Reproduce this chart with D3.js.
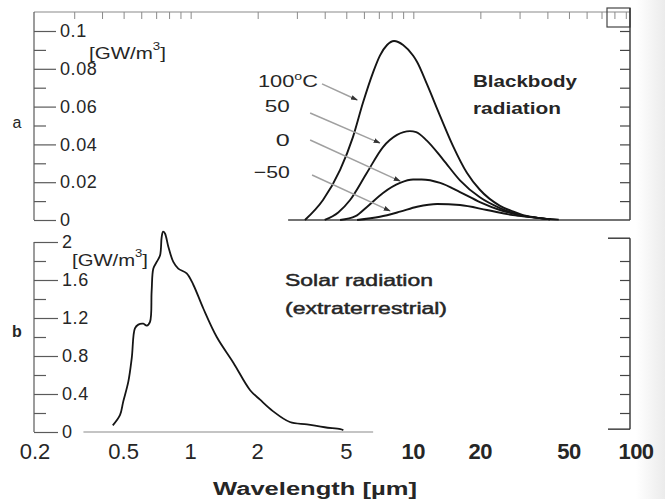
<!DOCTYPE html>
<html>
<head>
<meta charset="utf-8">
<script src="https://cdn.jsdelivr.net/npm/d3@7"></script>
<style>
  html, body { margin: 0; padding: 0; background: #fff; }
  svg { display: block; }
  text { font-family: "Liberation Sans", Arial, sans-serif; fill: #262626; }
</style>
</head>
<body>
<svg id="chart" width="665" height="499"></svg>
<script>
// Wavelength axis (shared by both panels), µm
const xTickValues = [0.2, 0.5, 1, 2, 5, 10, 20, 50, 100];
const xTickLabels = ["0.2", "0.5", "1", "2", "5", "10", "20", "50", "100"];

// Panel a: blackbody spectral exitance, GW/m³
const yTicksA = [0, 0.02, 0.04, 0.06, 0.08, 0.1];
const yTickLabelsA = ["0", "0.02", "0.04", "0.06", "0.08", "0.1"];

// Panel b: extraterrestrial solar spectrum, GW/m³
const yTicksB = [0, 0.4, 0.8, 1.2, 1.6, 2];
const yTickLabelsB = ["0", "0.4", "0.8", "1.2", "1.6", "2"];

// Blackbody curves: [wavelength µm, GW/m³]
const bb100 = [[3.26,0],[3.93,0.0106],[4.69,0.0265],[5.36,0.044],[5.94,0.062],[6.59,0.078],[7.08,0.087],[7.62,0.0926],[8.19,0.0947],[9.0,0.0926],[9.97,0.087],[10.4,0.0836],[11.5,0.072],[13.2,0.055],[15.1,0.039],[17.4,0.025],[19.9,0.016],[24.5,0.0075],[28.0,0.0045],[31.1,0.0026],[37.1,0.001],[41.1,0.0003]];
const bb50 = [[4.0,0],[4.6,0.004],[5.2,0.0106],[6.19,0.025],[7.31,0.0386],[8.45,0.045],[9.66,0.047],[10.3,0.0465],[11.5,0.042],[13.6,0.032],[16.2,0.021],[19.9,0.012],[24.5,0.0063],[30.1,0.0026],[37.1,0.001],[41.0,0.0003]];
const bb0 = [[4.69,0],[5.5,0.002],[6.19,0.0069],[7.31,0.0143],[8.72,0.0196],[9.97,0.0214],[10.9,0.0214],[13.2,0.0196],[16.2,0.0148],[19.9,0.0095],[24.5,0.0053],[30.1,0.0026],[37.1,0.001],[41.0,0.0003]];
const bbMinus50 = [[5.59,0],[7.08,0.0017],[8.72,0.0044],[10.4,0.007],[12.8,0.0085],[16.2,0.0079],[21.4,0.0053],[28.0,0.0026],[33.4,0.0016],[41.1,0.0005],[45.0,0.0002]];
const bbLabels = ["100°C", "50", "0", "−50"];

// Solar curve: [wavelength µm, GW/m³]
const solar = [[0.447,0.07],[0.482,0.18],[0.498,0.32],[0.525,0.53],[0.544,0.78],[0.562,1.09],[0.582,1.13],[0.613,1.14],[0.635,1.12],[0.657,1.16],[0.668,1.48],[0.680,1.72],[0.704,1.79],[0.729,1.86],[0.741,2.05],[0.752,2.11],[0.767,2.09],[0.794,1.95],[0.836,1.79],[0.880,1.72],[0.960,1.67],[1.028,1.55],[1.14,1.30],[1.31,1.0],[1.555,0.73],[1.85,0.44],[2.05,0.34],[2.34,0.22],[2.79,0.105],[3.33,0.08],[4.0,0.05],[4.7,0.03],[4.85,0.02]];

const svg = d3.select("#chart");

// scan shading along the right edge
const defs = svg.append("defs");
const grad = defs.append("linearGradient").attr("id", "edge").attr("x1", 0).attr("x2", 1);
grad.append("stop").attr("offset", 0).attr("stop-color", "#fff");
grad.append("stop").attr("offset", 1).attr("stop-color", "#ebebeb");
svg.append("rect").attr("x", 636).attr("y", 0).attr("width", 29).attr("height", 499).attr("fill", "url(#edge)");

defs.append("marker").attr("id", "head").attr("viewBox", "0 0 10 10")
  .attr("refX", 9).attr("refY", 5).attr("markerWidth", 7).attr("markerHeight", 7)
  .attr("orient", "auto").attr("markerUnits", "userSpaceOnUse")
  .append("path").attr("d", "M0,1.5 L10,5 L0,8.5 Z").attr("fill", "#333");

const x = d3.scaleLog().domain([0.2, 100]).range([35, 636]);
const ya = d3.scaleLinear().domain([0, 0.1]).range([220, 31]);
const yb = d3.scaleLinear().domain([0, 2]).range([432, 242]);

const axisColor = "#5a5a5a";
const leftX = 34, rightX = 630, topY = 12;

function styleAxis(g) {
  g.select(".domain").remove();
  g.selectAll(".tick line").attr("stroke", axisColor).attr("stroke-width", 1.2);
}

// wide lettering: stretch glyphs to the given width
function wideText(px, py, str, size, weight, width) {
  return svg.append("text").attr("x", px).attr("y", py).attr("dominant-baseline", "central")
    .attr("font-size", size).attr("font-weight", weight).attr("fill", "#262626")
    .attr("textLength", width).attr("lengthAdjust", "spacingAndGlyphs").text(str);
}

// ---- frame: top log axis
const topAxis = svg.append("g").attr("transform", `translate(0,${topY})`)
  .call(d3.axisBottom(x).tickValues(x.ticks().filter(d => d > 0.2 && d < 95)).tickSize(7).tickFormat(""));
styleAxis(topAxis);
topAxis.selectAll(".tick line").attr("stroke", "#8a8a8a").attr("stroke-width", 1);
svg.append("line").attr("x1", leftX).attr("x2", rightX).attr("y1", topY).attr("y2", topY)
  .attr("stroke", "#8a8a8a").attr("stroke-width", 1.2);
svg.append("rect").attr("x", 607).attr("y", 8).attr("width", rightX - 607).attr("height", 19)
  .attr("fill", "none").attr("stroke", "#444").attr("stroke-width", 1.2);

// ---- panel a left axis
svg.append("line").attr("x1", leftX).attr("x2", leftX).attr("y1", topY).attr("y2", ya(0))
  .attr("stroke", axisColor).attr("stroke-width", 1.2);
const aMinor = svg.append("g").attr("transform", `translate(${leftX},0)`)
  .call(d3.axisRight(ya).tickValues(d3.range(1, 10, 2).map(i => i / 100)).tickSize(12).tickFormat(""));
styleAxis(aMinor);
const aMajor = svg.append("g").attr("transform", `translate(${leftX},0)`)
  .call(d3.axisRight(ya).tickValues(yTicksA).tickSize(22).tickPadding(4)
    .tickFormat((d, i) => yTickLabelsA[i]));
styleAxis(aMajor);
aMajor.selectAll(".tick text").attr("font-size", 18).attr("fill", "#2a2a2a").attr("letter-spacing", 0.6)
  .attr("font-family", "'Liberation Sans', Arial, sans-serif");

// panel a right axis
svg.append("line").attr("x1", rightX).attr("x2", rightX).attr("y1", 8).attr("y2", ya(0))
  .attr("stroke", "#333").attr("stroke-width", 1.4);
const aRight = svg.append("g").attr("transform", `translate(${rightX},0)`)
  .call(d3.axisLeft(ya).tickValues(d3.range(1, 11).map(i => i / 100)).tickSize(10).tickFormat(""));
styleAxis(aRight);
aRight.selectAll(".tick line").attr("stroke", "#444");

// panel a baseline
svg.append("line").attr("x1", x(2.74)).attr("x2", rightX).attr("y1", ya(0)).attr("y2", ya(0))
  .attr("stroke", "#444").attr("stroke-width", 1.4);

// ---- panel b left axis
svg.append("line").attr("x1", leftX).attr("x2", leftX).attr("y1", yb(2)).attr("y2", yb(0))
  .attr("stroke", axisColor).attr("stroke-width", 1.2);
const bMinor = svg.append("g").attr("transform", `translate(${leftX},0)`)
  .call(d3.axisRight(yb).tickValues(d3.range(1, 10, 2).map(i => i / 5)).tickSize(12).tickFormat(""));
styleAxis(bMinor);
const bMajor = svg.append("g").attr("transform", `translate(${leftX},0)`)
  .call(d3.axisRight(yb).tickValues(yTicksB).tickSize(24).tickPadding(4)
    .tickFormat((d, i) => yTickLabelsB[i]));
styleAxis(bMajor);
bMajor.selectAll(".tick text").attr("font-size", 18).attr("fill", "#2a2a2a").attr("letter-spacing", 0.6)
  .attr("font-family", "'Liberation Sans', Arial, sans-serif");

// panel b baseline
svg.append("line").attr("x1", x(0.33)).attr("x2", x(6.6)).attr("y1", yb(0)).attr("y2", yb(0))
  .attr("stroke", "#8a8a8a").attr("stroke-width", 1.2);

// panel b right axis
svg.append("line").attr("x1", rightX).attr("x2", rightX).attr("y1", yb(2.04)).attr("y2", yb(0.03))
  .attr("stroke", "#333").attr("stroke-width", 1.4);
const bRight = svg.append("g").attr("transform", `translate(${rightX},0)`)
  .call(d3.axisLeft(yb).tickValues(d3.range(1, 10).map(i => i / 5)).tickSize(10).tickFormat(""));
styleAxis(bRight);
bRight.selectAll(".tick line").attr("stroke", "#444");
[2.04, 0.03].forEach(v => {
  svg.append("line").attr("x1", 608).attr("x2", rightX).attr("y1", yb(v)).attr("y2", yb(v))
    .attr("stroke", "#333").attr("stroke-width", 1.4);
});

// ---- x tick labels
svg.append("g").selectAll("text").data(xTickValues).join("text")
  .attr("x", d => x(d)).attr("y", 451)
  .attr("text-anchor", "middle").attr("dominant-baseline", "central")
  .attr("font-size", 22)
  .attr("font-weight", d => d >= 10 ? 700 : 400)
  .attr("letter-spacing", d => d >= 10 ? -0.5 : 0)
  .attr("fill", d => d >= 10 ? "#111" : "#333")
  .text((d, i) => xTickLabels[i]);

wideText(213, 489, "Wavelength [µm]", 18, 700, 204).attr("fill", "#333");

// units and panel letters
function unitLabel(px, py, width) {
  const t = svg.append("text").attr("x", px).attr("y", py)
    .attr("dominant-baseline", "central").attr("font-size", 17).attr("fill", "#333")
    .attr("textLength", width).attr("lengthAdjust", "spacingAndGlyphs");
  t.append("tspan").text("[GW/m");
  t.append("tspan").attr("font-size", 11).attr("dy", -7).text("3");
  t.append("tspan").attr("dy", 7).text("]");
}
unitLabel(89, 53, 77);
unitLabel(72, 260, 76);
svg.append("text").attr("x", 17).attr("y", 122).attr("text-anchor", "middle")
  .attr("dominant-baseline", "central").attr("font-size", 16).attr("fill", "#333").text("a");
svg.append("text").attr("x", 17).attr("y", 331).attr("text-anchor", "middle")
  .attr("dominant-baseline", "central").attr("font-size", 16).attr("font-weight", 700).attr("fill", "#333").text("b");

// ---- curves
const lineA = d3.line().x(d => x(d[0])).y(d => ya(d[1])).curve(d3.curveMonotoneX);
const lineB = d3.line().x(d => x(d[0])).y(d => yb(d[1])).curve(d3.curveCatmullRom.alpha(0.5));

[bb100, bb50, bb0, bbMinus50].forEach(s => {
  svg.append("path").datum(s).attr("d", lineA)
    .attr("fill", "none").attr("stroke", "#151515").attr("stroke-width", 1.9)
    .attr("stroke-linejoin", "round");
});
svg.append("path").datum(solar).attr("d", lineB)
  .attr("fill", "none").attr("stroke", "#151515").attr("stroke-width", 1.8)
  .attr("stroke-linejoin", "round");

// ---- temperature labels with leader arrows (in data units of panel a)
const labelAt = [[3.73, 0.0735], [2.79, 0.0598], [2.79, 0.0423], [2.79, 0.0249]];
const labelWidth = [60, 25, 14, 36];
const arrowFrom = [[3.89, 0.072], [3.44, 0.0566], [3.44, 0.0423], [3.51, 0.0238]];
const arrowTo = [[5.6, 0.0635], [7.08, 0.0407], [8.72, 0.0206], [7.86, 0.0048]];

bbLabels.forEach((lab, i) => {
  svg.append("line")
    .attr("x1", x(arrowFrom[i][0])).attr("y1", ya(arrowFrom[i][1]))
    .attr("x2", x(arrowTo[i][0])).attr("y2", ya(arrowTo[i][1]))
    .attr("stroke", "#a0a0a0").attr("stroke-width", 1.5)
    .attr("marker-end", "url(#head)");
  const t = svg.append("text").attr("x", x(labelAt[i][0])).attr("y", ya(labelAt[i][1]))
    .attr("text-anchor", "end").attr("dominant-baseline", "central")
    .attr("font-size", 17).attr("fill", "#2a2a2a")
    .attr("textLength", labelWidth[i]).attr("lengthAdjust", "spacingAndGlyphs");
  if (i === 0) {
    t.append("tspan").text("100");
    t.append("tspan").attr("font-size", 11).attr("dy", -5).text("o");
    t.append("tspan").attr("dy", 5).text("C");
  } else {
    t.text(lab);
  }
});

// ---- panel titles
wideText(473, 81, "Blackbody", 16, 700, 104);
wideText(473, 108, "radiation", 16, 700, 88);
wideText(285, 280, "Solar radiation", 16, 400, 148).attr("stroke", "#262626").attr("stroke-width", 0.45);
wideText(285, 308, "(extraterrestrial)", 16, 400, 162).attr("stroke", "#262626").attr("stroke-width", 0.45);
</script>
</body>
</html>
